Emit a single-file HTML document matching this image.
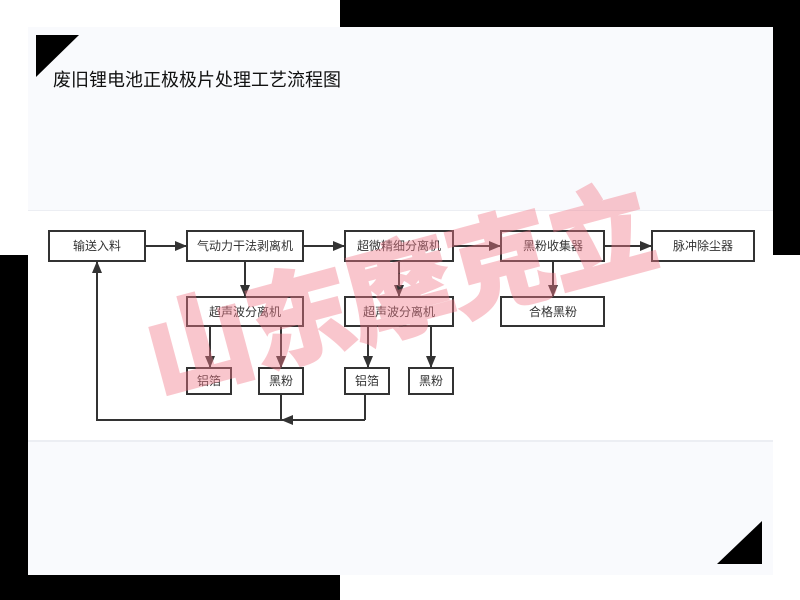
<!DOCTYPE html>
<html><head><meta charset="utf-8"><style>
html,body{margin:0;padding:0;width:800px;height:600px;overflow:hidden;background:#fff;font-family:"Liberation Sans","Noto Sans CJK SC",sans-serif}
.a{position:absolute}
</style></head><body>
<div class="a" style="left:28px;top:27px;width:745px;height:548px;background:#f9fafd"></div>
<div class="a" style="left:340px;top:0;width:460px;height:27px;background:#000"></div>
<div class="a" style="left:773px;top:0;width:27px;height:255px;background:#000"></div>
<div class="a" style="left:0;top:255px;width:28px;height:345px;background:#000"></div>
<div class="a" style="left:0;top:575px;width:340px;height:25px;background:#000"></div>
<div class="a" style="left:28px;top:210px;width:745px;height:232px;background:#fff;border-top:1px solid #eceef3;border-bottom:2px solid #eceef3;box-sizing:border-box"></div>
<svg class="a" style="left:0;top:0" width="800" height="600">
<polygon points="36,35 79,35 36,77" fill="#000"/>
<polygon points="762,521 762,564 717,564" fill="#000"/>
<text x="53" y="86" font-size="18" fill="#111" font-family="Liberation Sans, Noto Sans CJK SC, sans-serif">废旧锂电池正极极片处理工艺流程图</text>
<defs><marker id="m" markerWidth="12" markerHeight="10" refX="12" refY="5" orient="auto" markerUnits="userSpaceOnUse"><polygon points="0,0 12,5 0,10" fill="#333"/></marker></defs>
<g stroke="#333" stroke-width="2" fill="#fff">
<rect x="49" y="231" width="96" height="30"/>
<rect x="187" y="231" width="116" height="30"/>
<rect x="345" y="231" width="108" height="30"/>
<rect x="501" y="231" width="103" height="30"/>
<rect x="652" y="231" width="102" height="30"/>
<rect x="187" y="297" width="116" height="29"/>
<rect x="345" y="297" width="108" height="29"/>
<rect x="501" y="297" width="103" height="29"/>
<rect x="187" y="368" width="44" height="26"/>
<rect x="259" y="368" width="44" height="26"/>
<rect x="345" y="368" width="44" height="26"/>
<rect x="409" y="368" width="44" height="26"/>
</g>
<g stroke="#333" stroke-width="2" fill="none" marker-end="url(#m)">
<line x1="145" y1="246" x2="187" y2="246"/>
<line x1="303" y1="246" x2="345" y2="246"/>
<line x1="453" y1="246" x2="501" y2="246"/>
<line x1="604" y1="246" x2="652" y2="246"/>
<line x1="245" y1="261" x2="245" y2="297"/>
<line x1="399" y1="261" x2="399" y2="297"/>
<line x1="553" y1="261" x2="553" y2="297"/>
<line x1="210" y1="326" x2="210" y2="368"/>
<line x1="281" y1="326" x2="281" y2="368"/>
<line x1="368" y1="326" x2="368" y2="368"/>
<line x1="431" y1="326" x2="431" y2="368"/>
<line x1="365" y1="420" x2="281" y2="420"/>
<polyline points="281,420 97,420 97,261"/>
</g>
<g stroke="#333" stroke-width="2" fill="none">
<line x1="281" y1="394" x2="281" y2="420"/>
<line x1="365" y1="394" x2="365" y2="420"/>
</g>
<g font-size="12" fill="#333" text-anchor="middle" font-family="Liberation Sans, Noto Sans CJK SC, sans-serif">
<text x="97" y="250">输送入料</text>
<text x="245" y="250">气动力干法剥离机</text>
<text x="399" y="250">超微精细分离机</text>
<text x="553" y="250">黑粉收集器</text>
<text x="703" y="250">脉冲除尘器</text>
<text x="245" y="316">超声波分离机</text>
<text x="399" y="316">超声波分离机</text>
<text x="553" y="316">合格黑粉</text>
<text x="209" y="385">铝箔</text>
<text x="281" y="385">黑粉</text>
<text x="367" y="385">铝箔</text>
<text x="431" y="385">黑粉</text>
</g>
<text x="400" y="328" font-size="104" font-weight="900" fill="#f37a89" stroke="#f37a89" stroke-width="3" opacity="0.42" text-anchor="middle" transform="rotate(-15 400 290)" font-family="Noto Sans CJK SC, sans-serif">山东摩克立</text>
</svg>
</body></html>
